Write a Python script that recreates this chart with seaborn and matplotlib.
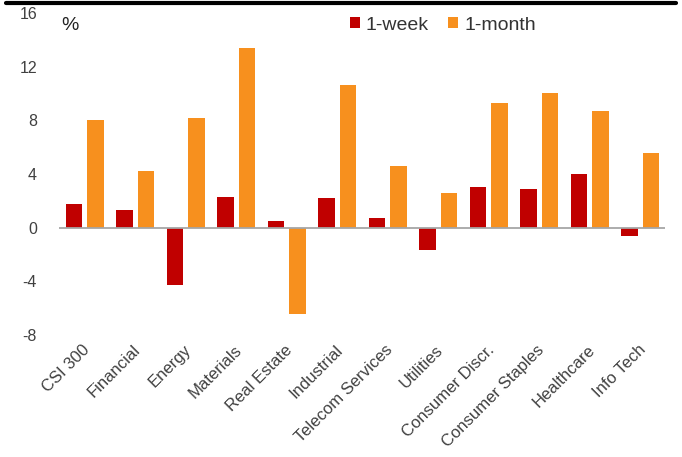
import matplotlib
matplotlib.use('Agg')
import matplotlib.pyplot as plt
import matplotlib.transforms as mtransforms
import pandas as pd
import seaborn as sns
from matplotlib.patches import Patch
from matplotlib.lines import Line2D

sectors = ['CSI 300', 'Financial', 'Energy', 'Materials', 'Real Estate', 'Industrial',
           'Telecom Services', 'Utilities', 'Consumer Discr.', 'Consumer Staples',
           'Healthcare', 'Info Tech']
week = [1.75, 1.3, -4.3, 2.3, 0.47, 2.2, 0.72, -1.65, 3.0, 2.87, 4.0, -0.65]
month = [8.05, 4.25, 8.15, 13.4, -6.45, 10.65, 4.6, 2.6, 9.3, 10.05, 8.7, 5.6]
series = ['1-week', '1-month']
colors = ['#C00000', '#F7901E']
yticks = [-8, -4, 0, 4, 8, 12, 16]

df = pd.DataFrame({
    'sector': sectors * 2,
    'value': week + month,
    'series': [series[0]] * len(sectors) + [series[1]] * len(sectors),
})

sns.set_style('white')
plt.rcParams['font.family'] = ['Liberation Sans', 'DejaVu Sans']

fig = plt.figure(figsize=(6.82, 4.57), dpi=100)
ax = fig.add_axes([0.087, 0.2672, 0.8885, 0.7038])

sns.barplot(data=df, x='sector', y='value', hue='series', order=sectors,
            hue_order=series, palette=colors, width=0.85, gap=0.23,
            saturation=1, edgecolor='none', legend=False, ax=ax)

ax.axhline(0, color='#A6A6A6', lw=1.3, zorder=3)
ax.set_ylim(-8, 16)
ax.set_xlim(-0.5, len(sectors) - 0.5)
ax.set_yticks(yticks)
ax.set_yticklabels([str(t) for t in yticks])
ax.set_xlabel('')
ax.set_ylabel('')
for s in ax.spines.values():
    s.set_visible(False)
ax.tick_params(axis='y', length=0, pad=16, labelsize=11.5, labelcolor='#404040')
ax.tick_params(axis='x', length=0, pad=9, labelsize=12, labelcolor='#404040')
shift = mtransforms.ScaledTranslation(3 / 100, 0, fig.dpi_scale_trans)
for lbl in ax.get_xticklabels():
    lbl.set_rotation(45)
    lbl.set_ha('right')
    lbl.set_va('center')
    lbl.set_rotation_mode('anchor')
    lbl.set_transform(lbl.get_transform() + shift)

fig.text(61 / 682, 1 - 26 / 457, '%', fontsize=14, ha='left', va='center', color='#222222')

handles = [Patch(facecolor=c, edgecolor='none') for c in colors]
fig.legend(handles, series, loc='center', bbox_to_anchor=(443 / 682, 1 - 25 / 457),
           ncol=2, frameon=False, fontsize=14, handlelength=0.5, handleheight=0.5,
           handletextpad=0.3, columnspacing=1.0, borderpad=0, labelcolor='#333333')

fig.add_artist(Line2D([6 / 682, 676 / 682], [1 - 3 / 457, 1 - 3 / 457],
                      transform=fig.transFigure, color='black', lw=3))

fig.savefig('out.png', dpi=100)
